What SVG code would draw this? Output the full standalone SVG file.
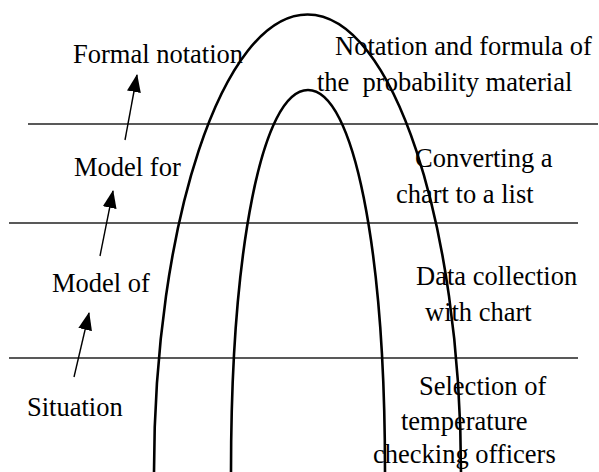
<svg xmlns="http://www.w3.org/2000/svg" width="599" height="472" viewBox="0 0 599 472">
<style>
text{font-family:"Liberation Serif","Times New Roman",serif;font-size:26.5px;fill:#000}
.hl{stroke:#222;stroke-width:1.4;fill:none}
.arch{stroke:#000;stroke-width:2.6;fill:none}
.arr{stroke:#000;stroke-width:1.4;fill:none;marker-end:url(#ah)}
</style>
<defs>
<marker id="ah" markerUnits="userSpaceOnUse" viewBox="0 0 18 14" markerWidth="18" markerHeight="14" refX="17" refY="7" orient="auto">
<path d="M0,0 L18,7 L0,14 z" fill="#000"/>
</marker>
</defs>
<g id="levels">
<line class="hl" x1="28" y1="124" x2="598" y2="124"/>
<line class="hl" x1="9" y1="223" x2="578" y2="223"/>
<line class="hl" x1="9" y1="358" x2="578" y2="358"/>
</g>
<g id="outer-arch"><path class="arch" d="M154,472 C154,225 222,14.5 307.5,14.5 C393,14.5 461,225 461,472"/></g>
<g id="inner-arch"><path class="arch" d="M231,472 C231,250 262,90 308,90 C354,90 385,250 385,472"/></g>
<g id="connectors">
<line class="arr" x1="125" y1="140" x2="137" y2="75"/>
<line class="arr" x1="100" y1="256" x2="113" y2="191"/>
<line class="arr" x1="74" y1="377" x2="89" y2="313"/>
</g>
<g id="node-formal"><text x="73" y="63">Formal notation</text></g>
<g id="node-modelfor"><text x="74" y="176">Model for</text></g>
<g id="node-modelof"><text x="52" y="292">Model of</text></g>
<g id="node-situation"><text x="27" y="416">Situation</text></g>
<g id="desc-1"><text x="335" y="55">Notation and formula of</text><text x="317" y="91" xml:space="preserve">the  probability material</text></g>
<g id="desc-2"><text x="415" y="167">Converting a</text><text x="396" y="203">chart to a list</text></g>
<g id="desc-3"><text x="416" y="285">Data collection</text><text x="425" y="321">with chart</text></g>
<g id="desc-4"><text x="419" y="395">Selection of</text><text x="401" y="430">temperature</text><text x="373" y="463">checking officers</text></g>
</svg>
